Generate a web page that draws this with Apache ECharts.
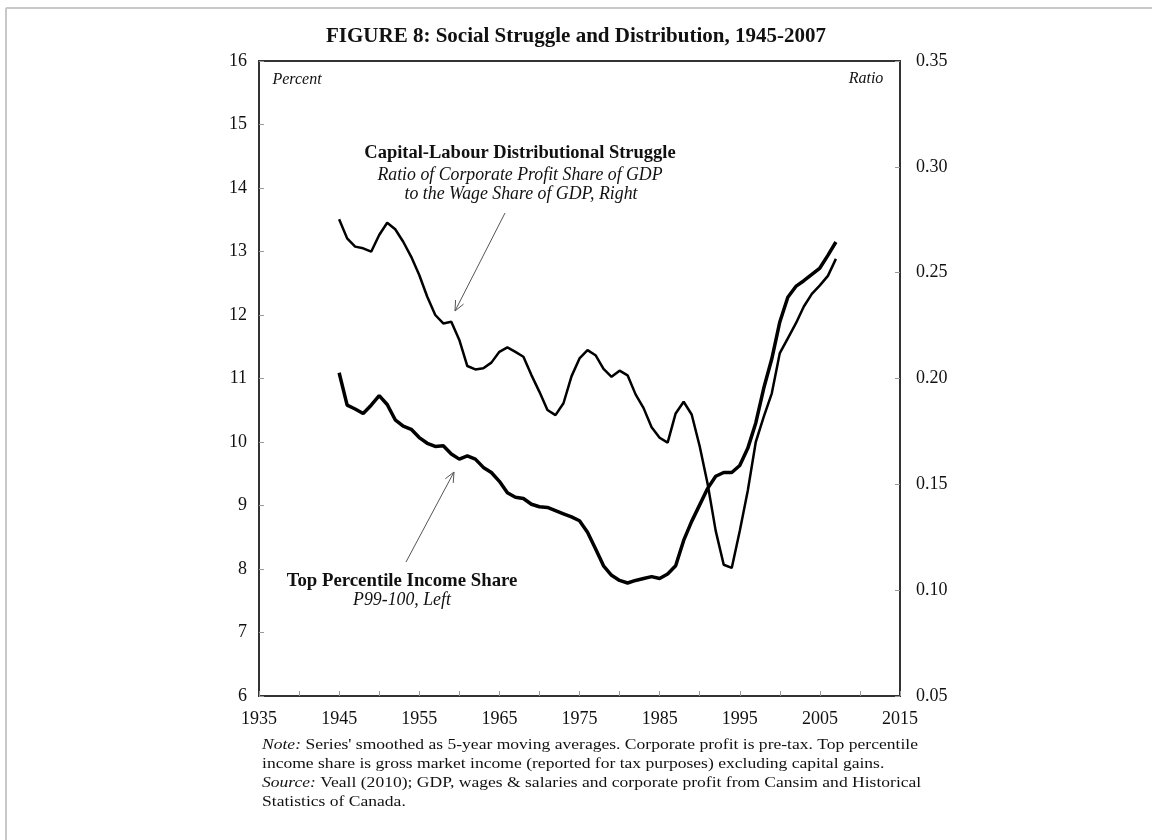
<!DOCTYPE html>
<html>
<head>
<meta charset="utf-8">
<script src="https://cdn.jsdelivr.net/npm/echarts@6/dist/echarts.min.js"></script>
<style>
  html, body { margin: 0; padding: 0; background: #fff; }
  #chart { width: 1152px; height: 840px; }
</style>
</head>
<body>
<div id="chart"></div>
<script>
// years of the two smoothed series
var years = [1945,1946,1947,1948,1949,1950,1951,1952,1953,1954,
  1955,1956,1957,1958,1959,1960,1961,1962,1963,1964,
  1965,1966,1967,1968,1969,1970,1971,1972,1973,1974,
  1975,1976,1977,1978,1979,1980,1981,1982,1983,1984,
  1985,1986,1987,1988,1989,1990,1991,1992,1993,1994,
  1995,1996,1997,1998,1999,2000,2001,2002,2003,2004,
  2005,2006,2007];

// Top percentile income share, P99-100 (percent, left axis)
var topShare = [11.09,10.58,10.52,10.45,10.58,10.73,10.59,10.35,10.25,10.20,
  10.07,9.98,9.93,9.94,9.81,9.73,9.78,9.73,9.60,9.52,
  9.38,9.20,9.13,9.11,9.02,8.98,8.97,8.92,8.87,8.82,
  8.76,8.58,8.32,8.05,7.90,7.82,7.78,7.82,7.85,7.88,
  7.85,7.92,8.05,8.45,8.75,9.01,9.27,9.46,9.52,9.52,
  9.63,9.90,10.30,10.85,11.31,11.89,12.28,12.45,12.54,12.64,
  12.74,12.94,13.15];

// profit share / wage share ratio (right axis)
var profitWage = [0.2752,0.2662,0.2623,0.2615,0.2599,0.2678,0.2736,0.2705,0.2646,0.2575,
  0.2489,0.2386,0.2300,0.2260,0.2268,0.2182,0.2059,0.2043,0.2048,0.2075,
  0.2126,0.2147,0.2126,0.2103,0.2016,0.1937,0.1851,0.1827,0.1883,0.2010,
  0.2095,0.2134,0.2110,0.2045,0.2008,0.2037,0.2015,0.1925,0.1860,0.1770,
  0.1720,0.1697,0.1835,0.1890,0.1830,0.1680,0.1500,0.1280,0.1120,0.1105,
  0.1280,0.1470,0.1700,0.1820,0.1930,0.2120,0.2190,0.2260,0.2340,0.2400,
  0.2440,0.2485,0.2565];

var leftTicks = [6, 16, 1];
var rightTicks = [0.05, 0.35, 0.05];
var xTicks = [1935, 2015, 5];

var serif = '"Liberation Serif", "Times New Roman", serif';

function pairs(xs, ys) {
  var out = [];
  for (var i = 0; i < xs.length; i++) out.push([xs[i], ys[i]]);
  return out;
}

// thin arrow with open head, pixel positions
function arrow(x1, y1, x2, y2) {
  var dx = x2 - x1, dy = y2 - y1;
  var len = Math.sqrt(dx * dx + dy * dy);
  var ux = dx / len, uy = dy / len;
  var h = 11, a = 0.42;
  var c = Math.cos(a), s = Math.sin(a);
  var p1 = [x2 - h * (ux * c - uy * s), y2 - h * (uy * c + ux * s)];
  var p2 = [x2 - h * (ux * c + uy * s), y2 - h * (uy * c - ux * s)];
  return [
    { type: 'line', shape: { x1: x1, y1: y1, x2: x2, y2: y2 }, style: { stroke: '#555', lineWidth: 1 } },
    { type: 'polyline', shape: { points: [p1, [x2, y2], p2] }, style: { stroke: '#555', lineWidth: 1, fill: null } }
  ];
}

function label(x, y, text, opts) {
  return {
    type: 'text', x: x, y: y,
    style: Object.assign({
      text: text, fill: '#111', font: '17px ' + serif,
      textAlign: 'center', textVerticalAlign: 'middle'
    }, opts || {})
  };
}

var chart = echarts.init(document.getElementById('chart'));

var graphics = [
  { type: 'line', shape: { x1: 6, y1: 8, x2: 1152, y2: 8 }, style: { stroke: '#c8c8c8', lineWidth: 2 } },
  { type: 'line', shape: { x1: 6, y1: 8, x2: 6, y2: 840 }, style: { stroke: '#c8c8c8', lineWidth: 2 } },
  label(297, 80, 'Percent', { font: 'italic 16px ' + serif }),
  label(866, 79, 'Ratio', { font: 'italic 16px ' + serif }),
  label(520, 153, 'Capital-Labour Distributional Struggle', { font: 'bold 18.5px ' + serif }),
  label(520, 175, 'Ratio of Corporate Profit Share of GDP', { font: 'italic 17.8px ' + serif }),
  label(521, 194, 'to the Wage Share of GDP, Right', { font: 'italic 17.8px ' + serif }),
  label(402, 581, 'Top Percentile Income Share', { font: 'bold 18.8px ' + serif }),
  label(402, 600, 'P99-100, Left', { font: 'italic 17.8px ' + serif }),
  {
    type: 'text', x: 262, y: 736, scaleX: 1.17,
    style: {
      text: '{i|Note:} Series\' smoothed as 5-year moving averages. Corporate profit is pre-tax. Top percentile\n' +
        'income share is gross market income (reported for tax purposes) excluding capital gains.\n' +
        '{i|Source:} Veall (2010); GDP, wages & salaries and corporate profit from Cansim and Historical\n' +
        'Statistics of Canada.',
      font: '15px ' + serif, fill: '#111', lineHeight: 19,
      rich: { i: { fontStyle: 'italic', fontFamily: serif, fontSize: 15, fill: '#111' } }
    }
  }
].concat(arrow(505, 213, 455, 311), arrow(406, 562, 454, 472));

chart.setOption({
  animation: false,
  backgroundColor: '#fff',
  title: {
    text: 'FIGURE 8: Social Struggle and Distribution, 1945-2007',
    left: 'center', top: 21,
    textStyle: { fontFamily: serif, fontWeight: 'bold', fontSize: 21, color: '#111' }
  },
  grid: { left: 259, right: 252, top: 61, bottom: 144, show: true, borderColor: '#333', borderWidth: 2 },
  xAxis: {
    type: 'value', min: xTicks[0], max: xTicks[1], interval: xTicks[2],
    axisLine: { lineStyle: { color: '#333', width: 2 } },
    axisTick: { inside: true, length: 5, lineStyle: { color: '#999' } },
    axisLabel: {
      margin: 14, fontFamily: serif, fontSize: 18, color: '#111',
      formatter: function (v) { return v % 10 === 5 ? String(v) : ''; }
    },
    splitLine: { show: false }
  },
  yAxis: [
    {
      type: 'value', min: leftTicks[0], max: leftTicks[1], interval: leftTicks[2],
      axisLine: { show: true, lineStyle: { color: '#333', width: 2 } },
      axisTick: { show: true, inside: true, length: 5, lineStyle: { color: '#999' } },
      axisLabel: { margin: 12, fontFamily: serif, fontSize: 18, color: '#111' },
      splitLine: { show: false }
    },
    {
      type: 'value', min: rightTicks[0], max: rightTicks[1], interval: rightTicks[2],
      position: 'right',
      axisLine: { show: true, lineStyle: { color: '#333', width: 2 } },
      axisTick: { show: true, inside: true, length: 5, lineStyle: { color: '#999' } },
      axisLabel: {
        margin: 16, fontFamily: serif, fontSize: 18, color: '#111',
        formatter: function (v) { return v.toFixed(2); }
      },
      splitLine: { show: false }
    }
  ],
  series: [
    {
      name: 'Capital-Labour Distributional Struggle',
      type: 'line', yAxisIndex: 1,
      data: pairs(years, profitWage),
      showSymbol: false, smooth: false,
      lineStyle: { color: '#000', width: 2.5 }
    },
    {
      name: 'Top Percentile Income Share',
      type: 'line', yAxisIndex: 0,
      data: pairs(years, topShare),
      showSymbol: false, smooth: false,
      lineStyle: { color: '#000', width: 3.5 }
    }
  ],
  graphic: graphics
});
</script>
</body>
</html>
